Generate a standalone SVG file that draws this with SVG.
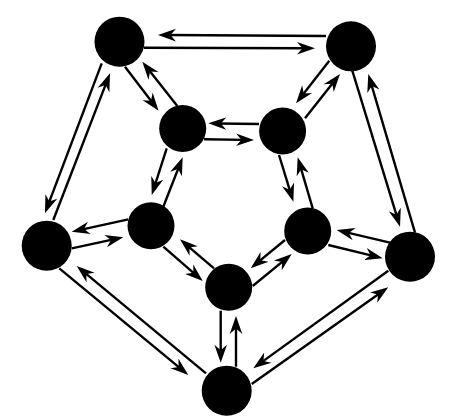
<svg xmlns="http://www.w3.org/2000/svg" width="454" height="416" viewBox="0 0 454 416">
<style>
.node{fill:#000;}
.e{fill:none;stroke:#000;stroke-width:2.4;marker-end:url(#ah);}
</style>
<defs>
<marker id="ah" markerUnits="userSpaceOnUse" viewBox="0 -7 18 14" markerWidth="18" markerHeight="14" refX="8" refY="0" orient="auto">
<path d="M18,0 L0,-6.3 L5.5,0 L0,6.3 Z" fill="#000"/>
</marker>
</defs>
<rect width="454" height="416" fill="#fff"/>
<g id="edges">
<path class="e" d="M326,36 L168,35.06"/>
<path class="e" d="M144,47.7 L305,48.26"/>
<path class="e" d="M101.7,63.3 L48.5,203.95"/>
<path class="e" d="M53.3,220 L106.4,82.6"/>
<path class="e" d="M125,66.7 L152.5,102.8"/>
<path class="e" d="M177.3,106 L148.5,69.5"/>
<path class="e" d="M329.3,60.7 L302.2,95.4"/>
<path class="e" d="M305,118.3 L333.8,81.8"/>
<path class="e" d="M352.3,70.7 L397.1,217.1"/>
<path class="e" d="M415,232.7 L371.1,83.6"/>
<path class="e" d="M390,242.7 L346.4,232.3"/>
<path class="e" d="M328.3,245 L373,255.9"/>
<path class="e" d="M285,240 L258.4,261.9"/>
<path class="e" d="M252.7,286 L284,260.4"/>
<path class="e" d="M220.7,310.7 L220.7,352.7"/>
<path class="e" d="M236,366.7 L236,326"/>
<path class="e" d="M388.3,270.7 L261.4,362.4"/>
<path class="e" d="M251.7,384 L380.1,293.1"/>
<path class="e" d="M128.3,219.3 L81.5,229.6"/>
<path class="e" d="M71.7,248.3 L113.5,239.4"/>
<path class="e" d="M163.3,246.7 L195.2,274.4"/>
<path class="e" d="M214,268.3 L187.6,245.8"/>
<path class="e" d="M59.3,268.3 L180.6,368.6"/>
<path class="e" d="M206,373.3 L84.4,272.4"/>
<path class="e" d="M259,124 L218.3,123.44"/>
<path class="e" d="M204,139.3 L244,139.86"/>
<path class="e" d="M166.7,148.3 L154.8,185.5"/>
<path class="e" d="M163.3,206.7 L179,166.6"/>
<path class="e" d="M279,155 L290.4,192.1"/>
<path class="e" d="M312.7,208.3 L300.5,166.9"/>
</g>
<g id="n-tl"><circle class="node" cx="119.5" cy="41.7" r="25"/></g>
<g id="n-tr"><circle class="node" cx="351" cy="46.3" r="25"/></g>
<g id="n-r"><circle class="node" cx="410" cy="256.7" r="25"/></g>
<g id="n-b"><circle class="node" cx="226.7" cy="390.7" r="25"/></g>
<g id="n-l"><circle class="node" cx="46.7" cy="245.7" r="25"/></g>
<g id="n-itl"><circle class="node" cx="182.7" cy="128.5" r="23.5"/></g>
<g id="n-itr"><circle class="node" cx="282.6" cy="131" r="23.5"/></g>
<g id="n-ir"><circle class="node" cx="307.7" cy="231" r="23.5"/></g>
<g id="n-ib"><circle class="node" cx="228.7" cy="287.3" r="23.5"/></g>
<g id="n-il"><circle class="node" cx="151" cy="225.7" r="23.5"/></g>
</svg>
